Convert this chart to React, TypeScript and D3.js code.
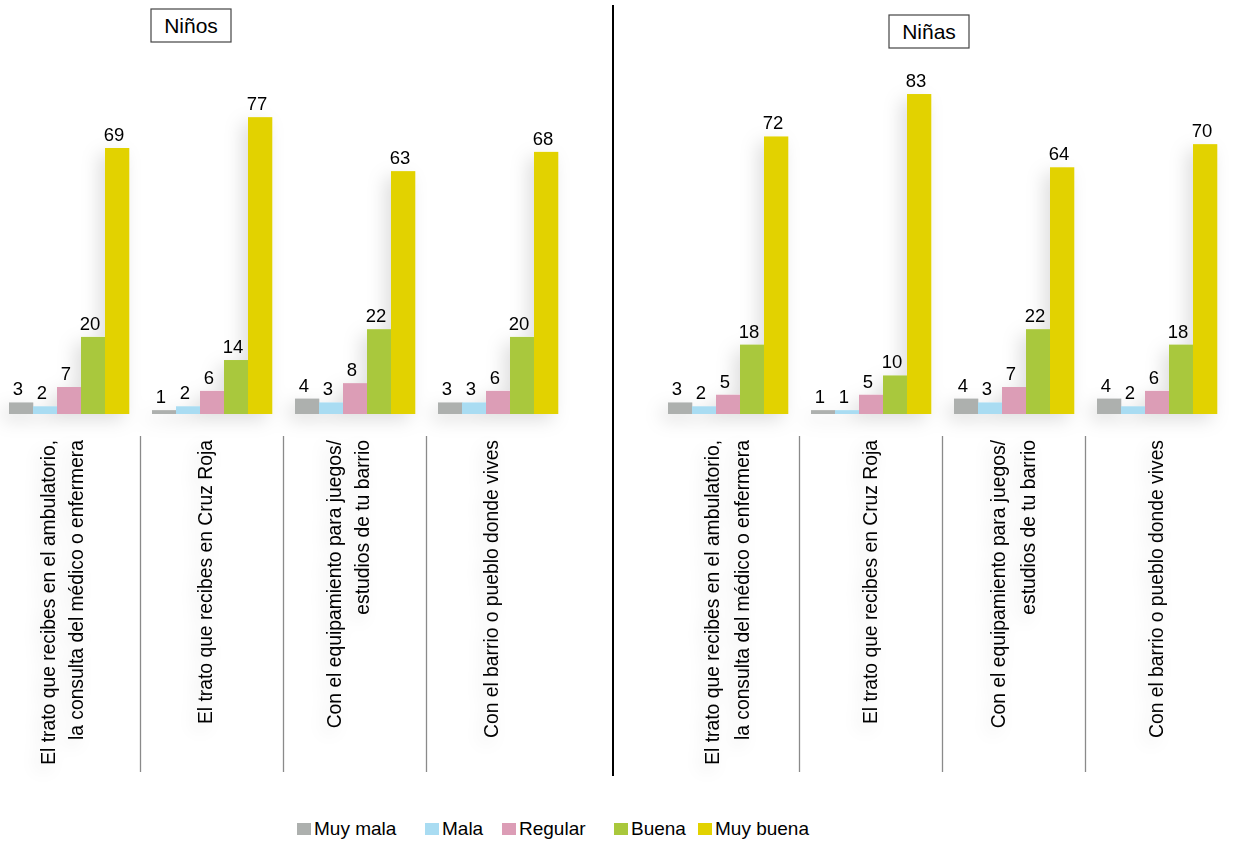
import React from "react";
import * as d3 from "d3";

const series = ["Muy mala", "Mala", "Regular", "Buena", "Muy buena"];
const colors = ["#adb0ae", "#a9dcf2", "#dc9db6", "#a9c83c", "#e2d200"];

const categories = ["amb", "cruz", "equip", "barrio"];
const categoryLines = [
  ["El trato que recibes en el ambulatorio,", "la consulta del médico o enfermera"],
  ["El trato que recibes en Cruz Roja"],
  ["Con el equipamiento para juegos/", "estudios de tu barrio"],
  ["Con el barrio o pueblo donde vives"],
];

const ninosValues = [
  [3, 2, 7, 20, 69],
  [1, 2, 6, 14, 77],
  [4, 3, 8, 22, 63],
  [3, 3, 6, 20, 68],
];
const ninasValues = [
  [3, 2, 5, 18, 72],
  [1, 1, 5, 10, 83],
  [4, 3, 7, 22, 64],
  [4, 2, 6, 18, 70],
];

const W = 1239;
const H = 844;
const FONT = "'Liberation Sans', Arial, Helvetica, sans-serif";

const y = d3.scaleLinear().domain([0, 100]).range([414, 28.5]);

interface PanelProps {
  title: string;
  values: number[][];
  x0: number;
  x1: number;
  titleBox: { x: number; y: number; w: number; h: number };
  labelShift: number;
  lineGap: number;
}

function Panel({ title, values, x0, x1, titleBox, labelShift, lineGap }: PanelProps) {
  const outer = d3.scaleBand<string>().domain(categories).range([x0, x1]).paddingInner(23 / 143).paddingOuter(0);
  const inner = d3.scaleBand<string>().domain(series).range([0, outer.bandwidth()]).padding(0);
  const gap = outer.step() - outer.bandwidth();
  return (
    <g>
      <g filter="url(#shadow)">
        {categories.map((c, ci) => (
          <g key={c} transform={`translate(${outer(c)},0)`}>
            {series.map((s, si) => (
              <rect
                key={s}
                x={inner(s)}
                y={y(values[ci][si])}
                width={inner.bandwidth() + 0.3}
                height={y(0) - y(values[ci][si])}
                fill={colors[si]}
              />
            ))}
          </g>
        ))}
      </g>
      {categories.map((c, ci) => (
        <g key={c + "lab"} transform={`translate(${outer(c)},0)`}>
          {series.map((s, si) => (
            <text
              key={s}
              x={(inner(s) as number) + inner.bandwidth() / 2 - 3}
              y={y(values[ci][si]) - 7}
              textAnchor="middle"
              fontSize={18.5}
              fontFamily={FONT}
              fill="#000"
            >
              {values[ci][si]}
            </text>
          ))}
        </g>
      ))}
      {categories.slice(1).map((c) => {
        const sx = (outer(c) as number) - gap / 2;
        return <line key={c + "sep"} x1={sx} x2={sx} y1={436} y2={772} stroke="#8a8a8a" strokeWidth={1.3} />;
      })}
      <g filter="url(#shadowText)">
        {categories.map((c, ci) => {
          const lines = categoryLines[ci];
          const cx = (outer(c) as number) + outer.bandwidth() / 2 + labelShift;
          return (
            <g key={c + "cat"}>
              {lines.map((ln, li) => {
                const lx = cx + (li - (lines.length - 1) / 2) * lineGap;
                return (
                  <text
                    key={li}
                    transform={`translate(${lx},440) rotate(-90)`}
                    textAnchor="end"
                    dy="0.35em"
                    fontSize={19.3}
                    fontFamily={FONT}
                    fill="#000"
                  >
                    {ln}
                  </text>
                );
              })}
            </g>
          );
        })}
      </g>
      <rect x={titleBox.x} y={titleBox.y} width={titleBox.w} height={titleBox.h} fill="#fff" stroke="#444" strokeWidth={1.2} />
      <text
        x={titleBox.x + titleBox.w / 2}
        y={titleBox.y + titleBox.h / 2}
        dy="0.36em"
        textAnchor="middle"
        fontSize={21}
        fontFamily={FONT}
        fill="#000"
      >
        {title}
      </text>
    </g>
  );
}

const legendX = [297, 425, 502, 614, 698];

export default function App() {
  return (
    <svg width={W} height={H} style={{ position: "fixed", left: 0, top: 0, background: "#fff" }}>
      <defs>
        <filter id="shadow" x="-20%" y="-20%" width="140%" height="140%">
          <feDropShadow dx={-6} dy={6} stdDeviation={9} floodColor="#000" floodOpacity={0.13} />
        </filter>
        <filter id="shadowText" x="-20%" y="-10%" width="140%" height="120%">
          <feDropShadow dx={-5} dy={6} stdDeviation={8} floodColor="#000" floodOpacity={0.12} />
        </filter>
      </defs>
      <rect x={0} y={0} width={W} height={H} fill="#fff" />
      <Panel
        title="Niños"
        values={ninosValues}
        x0={9}
        x1={558}
        titleBox={{ x: 151, y: 9, w: 80, h: 33 }}
        labelShift={-7}
        lineGap={28}
      />
      <Panel
        title="Niñas"
        values={ninasValues}
        x0={668}
        x1={1217}
        titleBox={{ x: 889, y: 15, w: 80, h: 33 }}
        labelShift={-1}
        lineGap={30}
      />
      <line x1={613} x2={613} y1={5} y2={776} stroke="#000" strokeWidth={2} />
      <g>
        {series.map((s, i) => (
          <g key={s} transform={`translate(${legendX[i]},0)`}>
            <rect x={0} y={823} width={14} height={12} fill={colors[i]} />
            <text x={17} y={835} fontSize={19} fontFamily={FONT} fill="#000">
              {s}
            </text>
          </g>
        ))}
      </g>
    </svg>
  );
}
